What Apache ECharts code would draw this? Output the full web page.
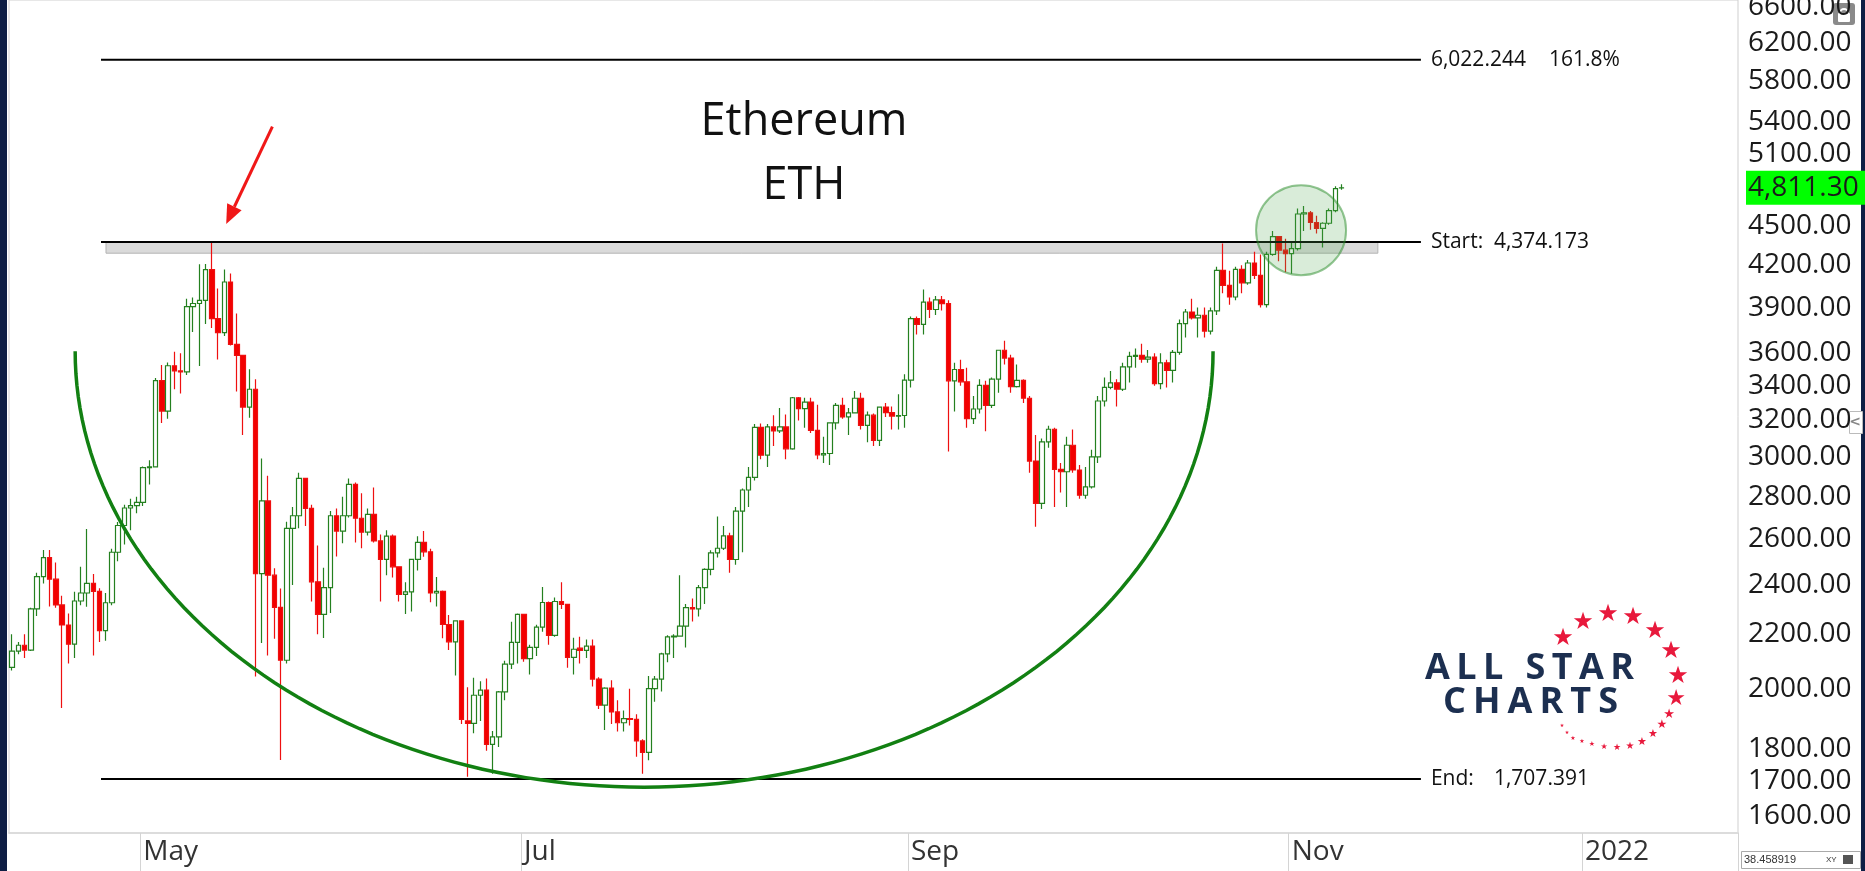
<!DOCTYPE html>
<html>
<head>
<meta charset="utf-8">
<title>Ethereum ETH</title>
<script src="https://cdn.jsdelivr.net/npm/echarts@6/dist/echarts.min.js"></script>
<style>
html, body { margin: 0; padding: 0; background: #fff; }
#chart { width: 1865px; height: 871px; }
</style>
</head>
<body>
<div id="chart"></div>
<script>
// daily bars from 2021-04-10, last one 2021-11-09
var startDate = '2021-04-10';
var futureDays = 63;

var opens = [
    2076, 2136, 2158, 2140, 2300, 2434, 2516, 2423, 2316, 2236,
    2162, 2332, 2365, 2405, 2372, 2214, 2325, 2540, 2662, 2745,
    2756, 2772, 2946, 2950, 3431, 3253, 3522, 3490, 3484, 3906,
    3928, 3950, 4168, 3825, 3733, 4079, 3657, 3587, 3276, 3380,
    2447, 2779, 2440, 2306, 2102, 2649, 2708, 2891, 2743, 2412,
    2278, 2387, 2708, 2636, 2708, 2861, 2696, 2631, 2714, 2591,
    2509, 2613, 2476, 2359, 2370, 2509, 2584, 2542, 2365, 2372,
    2238, 2171, 2252, 1890, 1882, 1977, 1995, 1814, 1838, 1989,
    2088, 2169, 2278, 2108, 2150, 2228, 2326, 2196, 2330, 2318,
    2113, 2147, 2139, 2155, 2034, 1943, 2002, 1920, 1884, 1898,
    1895, 1825, 1789, 2000, 2034, 2126, 2190, 2193, 2232, 2305,
    2300, 2387, 2465, 2537, 2558, 2614, 2508, 2730, 2833, 2896,
    3161, 3011, 3164, 3142, 3164, 3045, 3330, 3267, 3305, 3145,
    3013, 3020, 3186, 3286, 3220, 3243, 3327, 3173, 3230, 3090,
    3276, 3244, 3225, 3228, 3434, 3825, 3787, 3937, 3887, 3953,
    3927, 3430, 3499, 3424, 3210, 3265, 3403, 3286, 3440, 3619,
    3570, 3395, 3433, 3327, 2980, 2767, 3082, 3151, 2937, 2925,
    3064, 2934, 2807, 2848, 3002, 3311, 3391, 3418, 3380, 3515,
    3580, 3587, 3563, 3576, 3414, 3540, 3494, 3606, 3792, 3870,
    3830, 3848, 3743, 3877, 4163, 4055, 3973, 4170, 4072, 4217,
    4127, 3920, 4281, 4416, 4313, 4287, 4324, 4595, 4605, 4527,
    4480, 4521, 4622, 4811
];
var closes = [
    2136, 2158, 2140, 2300, 2434, 2516, 2423, 2316, 2236, 2162,
    2332, 2365, 2405, 2372, 2214, 2325, 2540, 2662, 2745, 2756,
    2772, 2946, 2950, 3431, 3253, 3522, 3490, 3484, 3906, 3928,
    3950, 4168, 3825, 3733, 4079, 3657, 3587, 3276, 3380, 2447,
    2779, 2440, 2306, 2102, 2649, 2708, 2891, 2743, 2412, 2278,
    2387, 2708, 2636, 2708, 2861, 2696, 2631, 2714, 2591, 2509,
    2613, 2476, 2359, 2370, 2509, 2584, 2542, 2365, 2372, 2238,
    2171, 2252, 1895, 1882, 1977, 1995, 1814, 1838, 1989, 2088,
    2169, 2278, 2108, 2150, 2228, 2326, 2196, 2330, 2318, 2113,
    2143, 2139, 2155, 2034, 1943, 2002, 1920, 1884, 1898, 1895,
    1825, 1789, 2000, 2034, 2126, 2190, 2193, 2232, 2305, 2300,
    2387, 2465, 2537, 2558, 2614, 2508, 2730, 2833, 2896, 3161,
    3011, 3164, 3142, 3164, 3045, 3330, 3267, 3305, 3145, 3013,
    3020, 3186, 3286, 3220, 3243, 3327, 3173, 3230, 3090, 3276,
    3244, 3225, 3228, 3434, 3825, 3787, 3937, 3887, 3953, 3927,
    3430, 3499, 3424, 3210, 3265, 3403, 3286, 3440, 3619, 3570,
    3395, 3433, 3327, 2980, 2767, 3082, 3151, 2937, 2925, 3064,
    2934, 2807, 2848, 3002, 3311, 3391, 3418, 3380, 3515, 3580,
    3587, 3563, 3576, 3414, 3540, 3494, 3606, 3792, 3870, 3830,
    3848, 3743, 3877, 4163, 4055, 3973, 4170, 4072, 4217, 4127,
    3920, 4281, 4416, 4313, 4287, 4324, 4595, 4605, 4527, 4480,
    4521, 4622, 4804, 4811.3
];
var highs = [
    2200, 2170, 2200, 2305, 2450, 2550, 2550, 2495, 2354, 2282,
    2370, 2476, 2646, 2445, 2385, 2365, 2556, 2678, 2760, 2790,
    2800, 2952, 2985, 3447, 3527, 3542, 3610, 3600, 3960, 3970,
    4207, 4210, 4372, 4033, 4170, 4140, 3860, 3590, 3500, 3440,
    2994, 2905, 2470, 2384, 2680, 2750, 2920, 2893, 2760, 2570,
    2472, 2730, 2743, 2800, 2890, 2870, 2817, 2743, 2845, 2620,
    2640, 2620, 2479, 2410, 2510, 2612, 2636, 2556, 2432, 2375,
    2276, 2250, 2252, 2005, 2039, 2026, 2036, 1857, 1992, 2100,
    2249, 2282, 2278, 2160, 2237, 2390, 2330, 2346, 2410, 2318,
    2187, 2190, 2180, 2180, 2040, 2005, 2030, 1960, 1925, 2000,
    1912, 1830, 2045, 2045, 2130, 2196, 2200, 2440, 2320, 2342,
    2398, 2470, 2549, 2704, 2660, 2628, 2750, 2840, 2950, 3180,
    3183, 3180, 3230, 3270, 3233, 3335, 3335, 3330, 3330, 3290,
    3110, 3190, 3300, 3330, 3270, 3370, 3360, 3250, 3240, 3280,
    3300, 3280, 3350, 3470, 3840, 3840, 4025, 3970, 3980, 3980,
    3950, 3540, 3560, 3510, 3340, 3440, 3430, 3450, 3620, 3680,
    3590, 3530, 3440, 3340, 3120, 3100, 3170, 3160, 2970, 3110,
    3150, 2960, 2950, 3040, 3340, 3450, 3490, 3440, 3540, 3610,
    3630, 3660, 3620, 3600, 3600, 3560, 3620, 3820, 3890, 3960,
    3900, 3900, 3900, 4190, 4364, 4160, 4190, 4200, 4240, 4300,
    4280, 4300, 4460, 4420, 4400, 4380, 4640, 4660, 4620, 4580,
    4530, 4640, 4825, 4840
];
var lows = [
    2065, 2124, 2110, 2136, 2272, 2405, 2310, 2305, 1933, 2090,
    2110, 2315, 2309, 2120, 2170, 2175, 2315, 2500, 2575, 2640,
    2720, 2755, 2860, 2950, 3186, 3210, 3380, 3355, 3465, 3737,
    3520, 3790, 3763, 3561, 3710, 3650, 3366, 3119, 3215, 2043,
    2167, 2120, 2183, 1765, 2090, 2398, 2649, 2660, 2330, 2200,
    2186, 2284, 2521, 2580, 2700, 2584, 2558, 2616, 2584, 2330,
    2440, 2430, 2330, 2280, 2290, 2460, 2520, 2327, 2310, 2185,
    2140, 2047, 1880, 1714, 1850, 1890, 1794, 1723, 1806, 1960,
    2070, 2090, 2097, 2050, 2118, 2210, 2160, 2190, 2300, 2075,
    2050, 2090, 2110, 2008, 1930, 1860, 1880, 1855, 1855, 1875,
    1775, 1723, 1764, 1955, 1990, 2095, 2110, 2190, 2150, 2250,
    2270, 2320, 2440, 2517, 2550, 2450, 2485, 2540, 2750, 2880,
    2990, 2950, 3060, 3130, 2990, 3040, 3200, 3160, 3130, 2990,
    2970, 2960, 3150, 3210, 3120, 3240, 3150, 3080, 3060, 3060,
    3220, 3150, 3150, 3160, 3390, 3720, 3720, 3830, 3850, 3880,
    3031, 3250, 3400, 3160, 3180, 3240, 3140, 3270, 3360, 3530,
    3360, 3390, 3300, 2920, 2656, 2740, 3050, 2750, 2820, 2750,
    2920, 2790, 2790, 2840, 2970, 3280, 3380, 3280, 3370, 3420,
    3510, 3540, 3540, 3400, 3380, 3390, 3420, 3590, 3700, 3820,
    3700, 3700, 3720, 3850, 4000, 3920, 3950, 4000, 4060, 4100,
    3900, 3900, 4270, 4230, 4150, 4139, 4310, 4460, 4470, 4440,
    4333, 4510, 4610, 4795
];

var yTicks = [6600, 6200, 5800, 5400, 5100, 4500, 4200, 3900, 3600, 3400,
    3200, 3000, 2800, 2600, 2400, 2200, 2000, 1800, 1700, 1600];
var lastPrice = 4811.30;

var monthTickIdx = [21, 82, 144, 205, 252];
var monthTickText = ['May', 'Jul', 'Sep', 'Nov', '2022'];

// projection levels (price), drawn between two bar indexes
var levelValues = [6022.244, 4374.173, 1707.391];
var levelText = ['6,022.244', 'Start:', 'End:'];
var levelText2 = ['161.8%', '4,374.173', '1,707.391'];
var levelSpan = [14.24, 225.7];
// resistance band under the start line
var bandSpan = [15.04, 218.8];
var bandPrice = [4290, 4374.173];
// the rounded bottom
var bowlIdx = [10.1, 192.4];
var bowlPrice = [3613, 1683];
// breakout circle and arrow
var circleAt = [206.5, 4467];
var arrowFrom = [41.7, 5355];
var arrowTo = [34.3, 4516];

var dates = [];
var d0 = new Date(startDate + 'T00:00:00Z');
for (var i = 0; i < opens.length + futureDays; i++) {
    dates.push(new Date(d0.getTime() + i * 86400000).toISOString().slice(0, 10));
}

var candles = opens.map(function (o, i) {
    return [o, closes[i], lows[i], highs[i]];
});

// coord for a fractional bar index
function pt(api, idx, price) {
    var i0 = Math.floor(idx);
    var a = api.coord([i0, price]);
    var b = api.coord([i0 + 1, price]);
    return [a[0] + (idx - i0) * (b[0] - a[0]), a[1]];
}

function isMonthTick(index) {
    return monthTickIdx.indexOf(index) >= 0;
}

var labelFont = '21px "Open Sans"';

function renderBand(params, api) {
    var a = pt(api, bandSpan[0], bandPrice[1]);
    var b = pt(api, bandSpan[1], bandPrice[0]);
    return {
        type: 'rect',
        shape: {x: a[0], y: a[1], width: b[0] - a[0], height: b[1] - a[1]},
        style: {fill: '#dadada', stroke: '#b4b4b4', lineWidth: 1}
    };
}

function renderNotes(params, api) {
    var kids = [];
    var gaps = [118, 63, 63];

    levelValues.forEach(function (v, k) {
        var a = pt(api, levelSpan[0], v);
        var b = pt(api, levelSpan[1], v);
        kids.push({
            type: 'line',
            shape: {x1: a[0], y1: a[1], x2: b[0], y2: b[1]},
            style: {stroke: '#000', lineWidth: 2}
        });
        kids.push({
            type: 'text',
            style: {text: levelText[k], x: b[0] + 10, y: b[1], font: labelFont, fill: '#111', align: 'left', verticalAlign: 'middle'}
        });
        kids.push({
            type: 'text',
            style: {text: levelText2[k], x: b[0] + 10 + gaps[k], y: b[1], font: labelFont, fill: '#111', align: 'left', verticalAlign: 'middle'}
        });
    });

    // bowl
    var L = pt(api, bowlIdx[0], bowlPrice[0]);
    var R = pt(api, bowlIdx[1], bowlPrice[0]);
    var yb = api.coord([0, bowlPrice[1]])[1];
    var cx = (L[0] + R[0]) / 2, rx = (R[0] - L[0]) / 2, ry = yb - L[1];
    var pts = [];
    for (var t = 0; t <= 120; t++) {
        var ang = Math.PI * t / 120;
        pts.push([cx - rx * Math.cos(ang), L[1] + ry * Math.sin(ang)]);
    }
    kids.push({
        type: 'polyline',
        shape: {points: pts},
        style: {stroke: '#128012', lineWidth: 3.5, fill: 'none'}
    });

    // circle
    var c = pt(api, circleAt[0], circleAt[1]);
    kids.push({
        type: 'circle',
        shape: {cx: c[0], cy: c[1], r: 45},
        style: {fill: 'rgba(80,170,80,0.22)', stroke: 'rgba(40,140,40,0.5)', lineWidth: 2}
    });

    // arrow
    var p0 = pt(api, arrowFrom[0], arrowFrom[1]);
    var p1 = pt(api, arrowTo[0], arrowTo[1]);
    var dx = p1[0] - p0[0], dy = p1[1] - p0[1];
    var len = Math.sqrt(dx * dx + dy * dy);
    var ux = dx / len, uy = dy / len;
    var hl = 19, hw = 8;
    var bx = p1[0] - ux * hl, by = p1[1] - uy * hl;
    kids.push({
        type: 'line',
        shape: {x1: p0[0], y1: p0[1], x2: bx, y2: by},
        style: {stroke: '#f01818', lineWidth: 3}
    });
    kids.push({
        type: 'polygon',
        shape: {points: [[p1[0], p1[1]], [bx - uy * hw, by + ux * hw], [bx + uy * hw, by - ux * hw]]},
        style: {fill: '#f01818'}
    });

    return {type: 'group', children: kids};
}

// letters spread out to a given width (logo has wide tracking)
function spacedText(str, x0, width, y, font, fill) {
    var ctx = document.createElement('canvas').getContext('2d');
    ctx.font = font;
    var chars = str.split('');
    var ws = chars.map(function (ch) { return ctx.measureText(ch).width; });
    var sum = ws.reduce(function (a, b) { return a + b; }, 0);
    var gap = (width - sum) / (chars.length - 1);
    var x = x0, out = [];
    chars.forEach(function (ch, k) {
        if (ch !== ' ') {
            out.push({type: 'text', x: x, y: y, style: {text: ch, font: font, fill: fill, align: 'left', verticalAlign: 'middle'}});
        }
        x += ws[k] + gap;
    });
    return out;
}

function logoGraphics() {
    var stars = [
        [1563, 639, 24], [1583, 623, 24], [1608, 615, 24], [1633, 618, 24],
        [1655, 632, 24], [1671, 652, 24], [1678, 677, 24], [1676, 699, 22],
        [1669, 715, 13], [1662, 725, 12], [1653, 734, 11], [1642, 742, 11],
        [1630, 746, 10], [1617, 748, 9], [1604, 747, 8], [1592, 744, 7],
        [1582, 741, 6], [1573, 738, 6], [1567, 733, 5], [1562, 726, 5]
    ];
    var font = 'bold 36px "Open Sans"';
    var out = spacedText('ALL STAR', 1425, 209, 669, font, '#1c2f50')
        .concat(spacedText('CHARTS', 1443, 175, 703, font, '#1c2f50'));
    stars.forEach(function (s) {
        out.push({type: 'text', x: s[0], y: s[1], style: {text: '\u2605', font: s[2] + 'px "DejaVu Sans"', fill: '#e8193c', align: 'center', verticalAlign: 'middle'}});
    });
    return out;
}

var chart = echarts.init(document.getElementById('chart'));

chart.setOption({
    animation: false,
    backgroundColor: '#ffffff',
    title: {
        text: 'Ethereum\nETH',
        left: 804,
        top: 90,
        textAlign: 'center',
        padding: 0,
        textStyle: {fontFamily: 'Open Sans', fontSize: 45, fontWeight: 'normal', lineHeight: 64, color: '#111'}
    },
    grid: {
        left: 9, right: 127, top: 0, bottom: 38,
        show: true, borderColor: '#cfcfcf', borderWidth: 1, backgroundColor: '#ffffff',
        outerBoundsMode: 'none'
    },
    xAxis: {
        type: 'category',
        data: dates,
        boundaryGap: true,
        axisLine: {show: true, lineStyle: {color: '#dcdcdc', width: 2}},
        axisTick: {show: true, interval: isMonthTick, length: 38, lineStyle: {color: '#d4d4d4', width: 1}},
        axisLabel: {
            interval: isMonthTick,
            formatter: function (v, i) {
                return monthTickText[monthTickIdx.indexOf(i)];
            },
            align: 'left',
            margin: 5,
            fontFamily: 'Open Sans',
            fontSize: 28,
            color: '#333'
        },
        splitLine: {show: false}
    },
    yAxis: {
        type: 'log',
        logBase: 10,
        min: 1553,
        max: 6686,
        position: 'right',
        axisLine: {show: false},
        axisTick: {show: false},
        axisLabel: {show: false},
        splitLine: {show: false}
    },
    series: [
        {
            name: 'band',
            type: 'custom',
            z: 1,
            silent: true,
            renderItem: renderBand,
            data: [[0, 2000]]
        },
        {
            name: 'ETH',
            type: 'candlestick',
            z: 2,
            barWidth: 5,
            data: candles,
            itemStyle: {
                color: '#ffffff',
                color0: '#f20000',
                borderColor: '#24801f',
                borderColor0: '#ee1010',
                borderWidth: 1.2
            },
            markLine: {
                silent: true,
                symbol: ['none', 'none'],
                lineStyle: {color: 'rgba(0,0,0,0)', width: 1, type: 'solid'},
                label: {
                    show: true,
                    position: 'end',
                    distance: 10,
                    formatter: function (p) {
                        return p.value.toFixed(2);
                    },
                    fontFamily: 'Open Sans',
                    fontSize: 28,
                    color: '#1a1a1a'
                },
                data: yTicks.map(function (v) {
                    return {yAxis: v};
                }).concat([{
                    yAxis: lastPrice,
                    label: {
                        formatter: '4,811.30',
                        backgroundColor: '#00ff00',
                        padding: [3, 14, 3, 2],
                        distance: 8
                    }
                }])
            }
        },
        {
            name: 'notes',
            type: 'custom',
            z: 3,
            silent: true,
            renderItem: renderNotes,
            data: [[0, 2000]]
        }
    ],
    graphic: [
        {type: 'rect', left: 0, top: 0, shape: {width: 7, height: 871}, style: {fill: '#0e1e44'}},
        {type: 'rect', left: 1861, top: 0, shape: {width: 4, height: 871}, style: {fill: '#0e1e44'}},
        // lock in the corner
        {type: 'rect', left: 1833, top: 3, shape: {width: 22, height: 22, r: 3}, style: {fill: '#8a8a8a'}},
        {type: 'rect', left: 1838, top: 13, shape: {width: 12, height: 9, r: 1}, style: {fill: '#fff'}},
        {type: 'arc', shape: {cx: 1844, cy: 13, r: 4, startAngle: Math.PI, endAngle: 2 * Math.PI}, style: {stroke: '#fff', lineWidth: 2, fill: 'none'}},
        // side tab
        {type: 'rect', left: 1849, top: 411, shape: {width: 13, height: 22}, style: {fill: '#fff', stroke: '#bbb', lineWidth: 1}},
        {type: 'text', x: 1855, y: 422, style: {text: '<', font: 'bold 14px "DejaVu Sans"', fill: '#888', align: 'center', verticalAlign: 'middle'}},
        // xy readout
        {type: 'rect', left: 1741, top: 851, shape: {width: 119, height: 17}, style: {fill: '#fff', stroke: '#aaa', lineWidth: 1}},
        {type: 'text', x: 1744, y: 860, style: {text: '38.458919', font: '11px "Liberation Sans"', fill: '#333', verticalAlign: 'middle'}},
        {type: 'text', x: 1826, y: 860, style: {text: 'XY', font: '8px "Liberation Sans"', fill: '#333', verticalAlign: 'middle'}},
        {type: 'rect', left: 1843, top: 855, shape: {width: 10, height: 9}, style: {fill: '#555'}}
    ].concat(logoGraphics())
});
</script>
</body>
</html>
